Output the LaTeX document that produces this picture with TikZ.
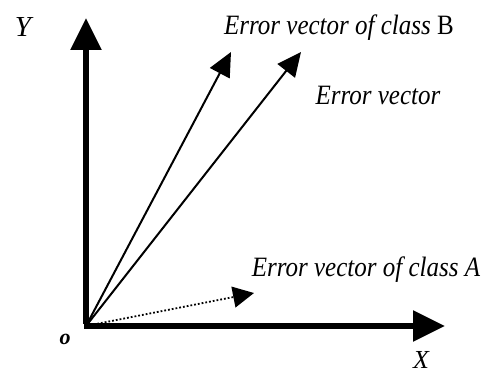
\documentclass[tikz,border=0pt]{standalone}
\usepackage{fontspec}
\setmainfont{Liberation Serif}
\usetikzlibrary{arrows.meta}
\newcommand{\tallt}[1]{\scalebox{1}[1.12]{#1}}
\begin{document}
\begin{tikzpicture}[x=1pt,y=-1pt,
  axis/.style={line width=5.5pt,-{Triangle[length=32pt,width=30pt]}},
  vec/.style={line width=2pt,-{Triangle[length=24pt,width=22pt]}},
  dvec/.style={line width=1.8pt,dotted,-{Triangle[length=21pt,width=21pt]}},
  lbl/.style={font=\fontsize{25}{25}\selectfont\itshape,inner sep=0pt}]
\useasboundingbox (0,0) rectangle (487,374);
\coordinate (O) at (86,326);
\coordinate (Ytip) at (86,18);
\coordinate (Xtip) at (445,326);
\coordinate (Btip) at (231,52);
\coordinate (Etip) at (301,52);
\coordinate (Atip) at (254,293);
\draw[axis] ([yshift=2.5pt]O) -- (Ytip);
\draw[axis] ([xshift=-2.5pt]O) -- (Xtip);
\draw[vec] (O) -- (Btip);
\draw[vec] (O) -- (Etip);
\draw[dvec] (O) -- (Atip);
\node[lbl,font=\fontsize{29}{29}\selectfont\itshape] (ylab) at (23,27) {Y};
\node[lbl,font=\fontsize{26}{26}\selectfont\itshape,anchor=south] (xlab) at (421,369) {X};
\node[lbl,font=\fontsize{22}{22}\selectfont\bfseries\itshape] (olab) at (65,339) {o};
\node[lbl,anchor=base] (blab) at (339,35) {\tallt{Error vector of class \textup{B}}};
\node[lbl,anchor=base] (elab) at (378,105) {\tallt{Error vector}};
\node[lbl,anchor=base] (alab) at (366,276) {\tallt{Error vector of class A}};
\end{tikzpicture}
\end{document}
